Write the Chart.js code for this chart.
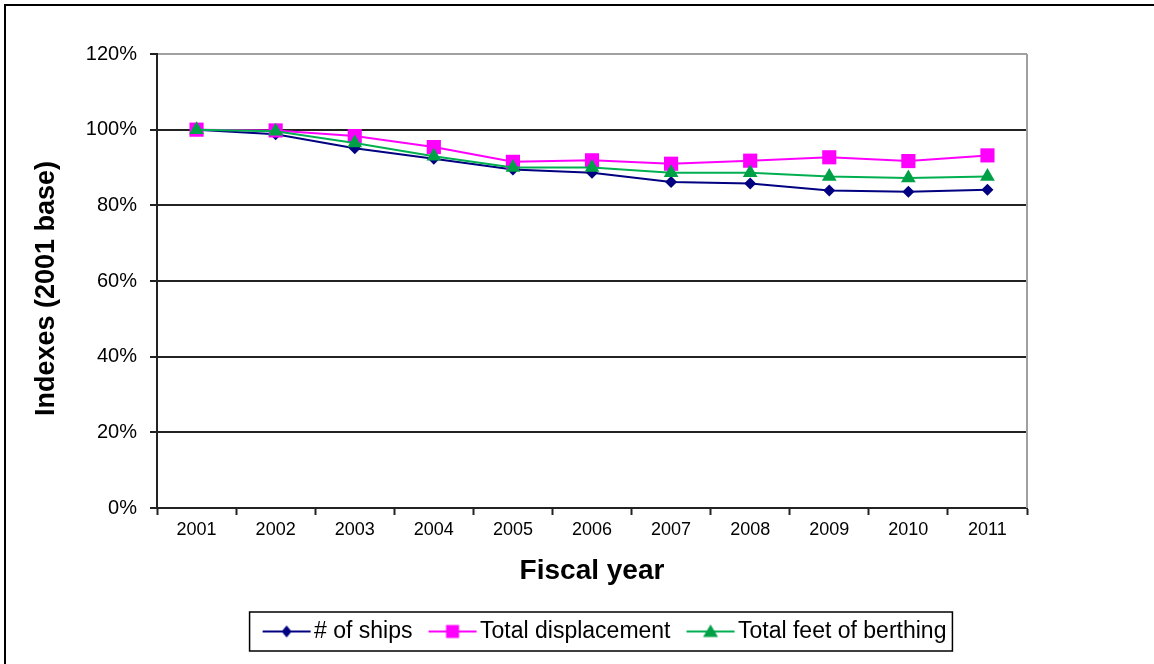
<!DOCTYPE html>
<html>
<head>
<meta charset="utf-8">
<script src="https://cdn.jsdelivr.net/npm/chart.js@4.4.1/dist/chart.umd.min.js"></script>
<style>
  html, body { margin: 0; padding: 0; background: #fff; }
  #wrap { width: 1154px; height: 664px; }
</style>
</head>
<body>
<div id="wrap"><canvas id="grafico" width="1154" height="664"></canvas></div>
<script>
// Datos del gráfico
const anios = ['2001', '2002', '2003', '2004', '2005', '2006', '2007', '2008', '2009', '2010', '2011'];
const barcos = [100, 98.8, 95.1, 92.3, 89.5, 88.6, 86.2, 85.8, 83.9, 83.6, 84.1];         // # of ships
const desplazamiento = [100, 99.8, 98.3, 95.4, 91.5, 91.9, 91.0, 91.8, 92.7, 91.7, 93.2]; // Total displacement
const atraque = [100, 99.6, 96.5, 93.0, 90.0, 90.0, 88.6, 88.6, 87.6, 87.2, 87.6];        // Total feet of berthing
const ticksY = [0, 20, 40, 60, 80, 100, 120];

const fuente = "'Liberation Sans', Arial, sans-serif";

// Colores de cada serie
const azul = '#000080';
const magenta = '#FF00FF';
const verde = '#00B050';
const verdeMarca = '#00A046';

// Leyenda: separación entre elementos y desplazamiento de la línea dentro de cada caja
const sepLeyenda = 6;
const margenLinea = 10;
const centroLeyenda = 601;

// Muestra de la leyenda: línea con el marcador en medio
function muestraLeyenda(color, relleno, forma) {
  const c = document.createElement('canvas');
  c.width = 68; c.height = 22;
  const g = c.getContext('2d');
  const x0 = 19, x1 = 67, y = 11, cx = (x0 + x1) / 2;
  g.strokeStyle = color;
  g.lineWidth = 2;
  g.beginPath(); g.moveTo(x0, y); g.lineTo(x1, y); g.stroke();
  g.fillStyle = relleno;
  g.beginPath();
  if (forma === 'rombo') {
    g.moveTo(cx, y - 6); g.lineTo(cx + 5, y); g.lineTo(cx, y + 6); g.lineTo(cx - 5, y);
  } else if (forma === 'cuadro') {
    g.rect(cx - 6.5, y - 6.5, 13, 13);
  } else {
    g.moveTo(cx, y - 7); g.lineTo(cx + 7.5, y + 5.5); g.lineTo(cx - 7.5, y + 5.5);
  }
  g.closePath(); g.fill();
  return c;
}

const muestras = [
  muestraLeyenda(azul, azul, 'rombo'),
  muestraLeyenda(magenta, magenta, 'cuadro'),
  muestraLeyenda(verde, verdeMarca, 'triangulo')
];

// Marco exterior, borde del área de trazado y recuadro de la leyenda
const marcos = {
  id: 'marcos',
  afterLayout(chart) {
    // mueve la leyenda para centrar su recuadro donde toca
    const ley = chart.legend;
    if (!ley || !ley.lineWidths) return;
    const lw = ley.lineWidths[0];
    const x0 = (ley.left + sepLeyenda + ley.right - lw) / 2;
    const centroActual = x0 + (margenLinea - 13 + lw - sepLeyenda + 6) / 2;
    const dx = centroLeyenda - centroActual;
    ley.left += dx;
    ley.right += dx;
  },
  beforeDraw(chart) {
    const ctx = chart.ctx;
    ctx.save();
    ctx.strokeStyle = '#000';
    ctx.lineWidth = 2;
    ctx.beginPath();
    ctx.moveTo(5, chart.height); ctx.lineTo(5, 5); ctx.lineTo(chart.width, 5);
    ctx.stroke();
    ctx.restore();
  },
  beforeDatasetsDraw(chart) {
    const { ctx, chartArea } = chart;
    ctx.save();
    ctx.strokeStyle = '#a0a0a0';
    ctx.lineWidth = 2;
    ctx.beginPath();
    ctx.moveTo(chartArea.right, chartArea.top);
    ctx.lineTo(chartArea.right, chartArea.bottom);
    ctx.stroke();
    ctx.restore();
  },
  afterDraw(chart) {
    const cajas = chart.legend.legendHitBoxes;
    if (!cajas || !cajas.length) return;
    const ctx = chart.ctx;
    const izq = cajas[0].left + margenLinea - 13;
    const ult = cajas[cajas.length - 1];
    const der = ult.left + ult.width + 6;
    const centro = cajas[0].top + cajas[0].height / 2;
    ctx.save();
    ctx.strokeStyle = '#000';
    ctx.lineWidth = 1.5;
    ctx.strokeRect(izq, centro - 19.5, der - izq, 39);
    ctx.restore();
  }
};

new Chart(document.getElementById('grafico'), {
  type: 'line',
  data: {
    labels: anios,
    datasets: [
      {
        label: '# of ships', data: barcos, order: 3,
        borderColor: azul, backgroundColor: azul, borderWidth: 2,
        pointStyle: 'rectRot', pointRadius: 6, pointBorderWidth: 0,
        pointBackgroundColor: azul
      },
      {
        label: 'Total displacement', data: desplazamiento, order: 2,
        borderColor: magenta, backgroundColor: magenta, borderWidth: 2,
        pointStyle: 'rect', pointRadius: 10, pointBorderWidth: 0,
        pointBackgroundColor: magenta
      },
      {
        label: 'Total feet of berthing', data: atraque, order: 1,
        borderColor: verde, backgroundColor: verdeMarca, borderWidth: 2,
        pointStyle: 'triangle', pointRadius: 8.5, pointBorderWidth: 0,
        pointBackgroundColor: verdeMarca
      }
    ]
  },
  options: {
    responsive: false,
    animation: false,
    layout: { padding: { left: 0, top: 54, right: 127, bottom: 11 } },
    plugins: {
      tooltip: { enabled: false },
      legend: {
        position: 'bottom',
        fullSize: false,
        labels: {
          usePointStyle: true,
          pointStyleWidth: 50,
          padding: sepLeyenda,
          color: '#000',
          font: { family: fuente, size: 23 },
          generateLabels(chart) {
            return chart.data.datasets.map((d, i) => ({
              text: d.label,
              pointStyle: muestras[i],
              datasetIndex: i,
              fillStyle: 'transparent',
              strokeStyle: 'transparent',
              lineWidth: 0,
              hidden: false
            }));
          }
        }
      }
    },
    scales: {
      x: {
        offset: true,
        grid: {
          offset: true, drawOnChartArea: false, drawTicks: true,
          tickLength: 7, tickColor: '#222', tickWidth: 2
        },
        border: { color: '#222', width: 2 },
        ticks: { color: '#000', padding: 4, font: { family: fuente, size: 18 }, maxRotation: 0 },
        title: {
          display: true, text: 'Fiscal year', color: '#000',
          font: { family: fuente, size: 28, weight: 'bold' },
          padding: { top: 0, bottom: 26.2 }
        },
        afterFit(escala) { escala.height = 106; }
      },
      y: {
        min: 0, max: 120,
        afterBuildTicks(escala) { escala.ticks = ticksY.map(v => ({ value: v })); },
        grid: {
          color: ctx => ctx.tick && ctx.tick.value === 120 ? '#a0a0a0' : '#222',
          lineWidth: 2, tickLength: 7, tickColor: '#222', tickWidth: 2
        },
        border: { color: '#222', width: 2 },
        ticks: {
          color: '#000', padding: 13, font: { family: fuente, size: 20 },
          callback: v => v + '%'
        },
        title: {
          display: true, text: 'Indexes (2001 base)  ', color: '#000',
          font: { family: fuente, size: 27, weight: 'bold' },
          padding: { top: 30, bottom: 0 }
        },
        afterFit(escala) { escala.width = 157; }
      }
    }
  },
  plugins: [marcos]
});
</script>
</body>
</html>
